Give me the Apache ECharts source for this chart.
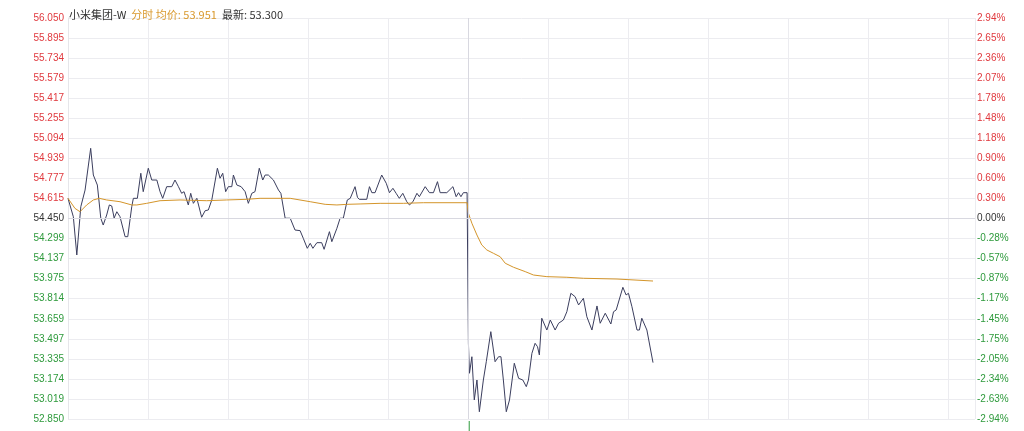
<!DOCTYPE html>
<html>
<head>
<meta charset="utf-8">
<script src="https://cdn.jsdelivr.net/npm/echarts@6/dist/echarts.min.js"></script>
<style>
html,body{margin:0;padding:0;background:#fff;}
#chart{width:1024px;height:431px;}
</style>
</head>
<body>
<div id="chart"></div>
<script>
// ---- data ----
const stockName = '小米集团-W';
const avgLatest = '53.951';
const lastPrice = '53.300';
const prevClose = 54.45;

const leftLabels = ['56.050','55.895','55.734','55.579','55.417','55.255','55.094','54.939','54.777','54.615','54.450','54.299','54.137','53.975','53.814','53.659','53.497','53.335','53.174','53.019','52.850'];
const rightLabels = ['2.94%','2.65%','2.36%','2.07%','1.78%','1.48%','1.18%','0.90%','0.60%','0.30%','0.00%','-0.28%','-0.57%','-0.87%','-1.17%','-1.45%','-1.75%','-2.05%','-2.34%','-2.63%','-2.94%'];

// minutes since 09:30 (morning 0-150, afternoon 150-330)
const priceTime = [0,2.0,3.3,4.8,6.4,8.5,9.5,11.0,12.3,13.2,14.5,15.5,16.4,17.3,18.3,19.5,21.4,22.4,23.9,24.5,
26.0,27.3,28.2,30.1,31.4,33.3,34.5,35.5,37.0,38.9,40.1,41.4,42.6,43.5,45.1,46.0,47.0,48.3,50.1,51.4,
52.6,53.9,56.0,57.0,58.0,59.1,60.1,61.4,62.0,63.3,64.9,66.4,67.6,68.9,70.1,71.7,73.0,73.9,75.1,77.0,
78.9,79.8,81.4,83.3,85.1,87.0,88.2,89.7,90.8,91.8,93.3,95.1,96.0,98.0,98.9,100.8,102.0,103.2,104.7,105.8,
107.6,108.5,109.2,112.0,113.0,113.9,115.1,117.6,119.3,120.5,121.8,123.0,124.2,125.5,127.0,128.0,129.3,130.8,131.7,133.9,
135.5,137.0,138.5,139.5,142.0,144.3,145.5,146.4,147.3,148.2,149.6,
150.1,150.5,151.4,152.3,153.3,154.2,155.7,156.8,158.5,160.1,161.4,162.3,163.2,164.3,165.5,167.3,168.9,170.5,171.8,172.6,
173.9,175.1,176.0,176.7,177.6,179.5,180.8,182.6,183.9,185.7,187.0,188.5,190.1,191.4,193.2,194.5,196.4,198.3,199.5,201.4,
203.5,204.5,205.5,208.0,209.2,210.1,211.4,213.3,214.2,215.1,217.0,219.3];

const price = [54.611,54.464,54.159,54.544,54.677,55.010,54.797,54.717,54.452,54.398,
54.478,54.558,54.550,54.454,54.504,54.464,54.305,54.305,54.544,54.611,
54.611,54.811,54.664,54.851,54.757,54.757,54.664,54.611,54.704,54.704,
54.757,54.704,54.651,54.664,54.558,54.651,54.571,54.611,54.460,54.512,
54.518,54.598,54.851,54.771,54.811,54.664,54.704,54.704,54.797,54.717,
54.704,54.664,54.571,54.651,54.664,54.851,54.757,54.797,54.797,54.757,
54.677,54.651,54.452,54.452,54.358,54.353,54.292,54.212,54.252,54.212,
54.257,54.257,54.204,54.345,54.265,54.372,54.452,54.452,54.598,54.611,
54.704,54.619,54.603,54.603,54.704,54.656,54.656,54.797,54.731,54.656,
54.691,54.651,54.611,54.651,54.584,54.558,54.584,54.651,54.624,54.704,
54.656,54.656,54.744,54.656,54.656,54.704,54.624,54.656,54.624,54.656,54.656,
53.454,53.215,53.347,53.002,53.161,52.908,53.161,53.307,53.547,53.307,
53.347,53.347,53.161,52.908,53.002,53.295,53.175,53.161,53.108,53.161,
53.374,53.454,53.427,53.361,53.654,53.560,53.640,53.560,53.614,53.640,
53.706,53.853,53.826,53.760,53.813,53.666,53.560,53.752,53.614,53.694,
53.608,53.706,53.720,53.901,53.840,53.853,53.746,53.560,53.560,53.654,
53.560,53.300];

const avgTime = [0,2.6,4.5,7.0,9.5,11.7,14.5,19.5,23.9,25.8,29.5,34.5,42.0,52.0,59.5,67.0,72.0,79.5,83.3,90.8,
96.4,100.8,104.5,109.5,117.0,125.7,133.2,149.6,
150.1,151.4,153.3,155.1,157.0,159.5,162.0,163.9,167.0,171.4,174.5,179.5,187.0,193.2,205.8,219.3];
const avgPrice = [54.611,54.531,54.504,54.558,54.598,54.611,54.598,54.584,54.558,54.558,54.571,54.592,54.598,54.592,54.598,54.603,54.611,54.611,54.611,54.584,
54.563,54.558,54.563,54.566,54.571,54.571,54.576,54.576,
54.492,54.412,54.318,54.239,54.199,54.172,54.145,54.093,54.061,54.026,53.999,53.986,53.981,53.973,53.967,53.951];

const volTime = [150.4];
const volume = [1];

// ---- chart ----
const chart = echarts.init(document.getElementById('chart'), null, {renderer: 'canvas'});
const RED = '#e0393e', GREEN = '#2e9a3c', MID = '#333333';
const labelIdx = v => Math.round((1.6 - v) / 0.16);
const labelColor = v => { const i = labelIdx(v); return i < 10 ? RED : (i === 10 ? MID : GREEN); };

chart.setOption({
  animation: false,
  backgroundColor: '#ffffff',
  title: {
    left: 64, top: 1,
    text: '{n|' + stockName + '} {o|分时 均价: ' + avgLatest + '} {n|最新: ' + lastPrice + '}',
    textStyle: {
      fontWeight: 'normal',
      rich: {
        n: {color: '#333', fontSize: 11, fontWeight: 'normal', fontFamily: 'Noto Sans CJK SC'},
        o: {color: '#d9992e', fontSize: 11, fontWeight: 'normal', fontFamily: 'Noto Sans CJK SC'}
      }
    }
  },
  grid: [
    {left: 68, right: 49, top: 18, bottom: 12},
    {left: 68, right: 49, top: 421, bottom: 0}
  ],
  xAxis: [
    {type: 'value', gridIndex: 0, min: 0, max: 340, interval: 30,
     axisLine: {show: false}, axisTick: {show: false}, axisLabel: {show: false},
     splitLine: {show: true, lineStyle: {color: '#ececf0', width: 1}}},
    {type: 'value', gridIndex: 1, min: 0, max: 340, show: false}
  ],
  yAxis: [
    {type: 'value', gridIndex: 0, position: 'left', min: -1.6, max: 1.6, interval: 0.16,
     axisLine: {show: true, lineStyle: {color: '#e6e6ea'}}, axisTick: {show: false},
     axisLabel: {margin: 4, fontSize: 10, fontFamily: 'Liberation Sans',
       formatter: v => leftLabels[labelIdx(v)], color: v => labelColor(v)},
     splitLine: {show: true, lineStyle: {color: '#ececf0', width: 1}}},
    {type: 'value', gridIndex: 0, position: 'right', min: -1.6, max: 1.6, interval: 0.16,
     axisLine: {show: false}, axisTick: {show: false},
     axisLabel: {margin: 2, fontSize: 10, fontFamily: 'Liberation Sans',
       formatter: v => rightLabels[labelIdx(v)], color: v => labelColor(v)},
     splitLine: {show: false}},
    {type: 'value', gridIndex: 1, min: 0, max: 1, show: false}
  ],
  series: [
    {type: 'line', xAxisIndex: 0, yAxisIndex: 0, showSymbol: false, silent: true,
     data: priceTime.map((t, i) => [t, price[i] - prevClose]),
     lineStyle: {color: '#3b3e5e', width: 1},
     markLine: {silent: true, symbol: 'none', label: {show: false},
       lineStyle: {color: '#d8d8e0', type: 'solid', width: 1},
       data: [{yAxis: 0}, {xAxis: 150}]}},
    {type: 'line', xAxisIndex: 0, yAxisIndex: 0, showSymbol: false, silent: true,
     data: avgTime.map((t, i) => [t, avgPrice[i] - prevClose]),
     lineStyle: {color: '#d4952a', width: 1}},
    {type: 'bar', xAxisIndex: 1, yAxisIndex: 2, barWidth: 1, silent: true,
     data: volTime.map((t, i) => [t, volume[i]]),
     itemStyle: {color: '#2e9a3c'}}
  ]
});
</script>
</body>
</html>
